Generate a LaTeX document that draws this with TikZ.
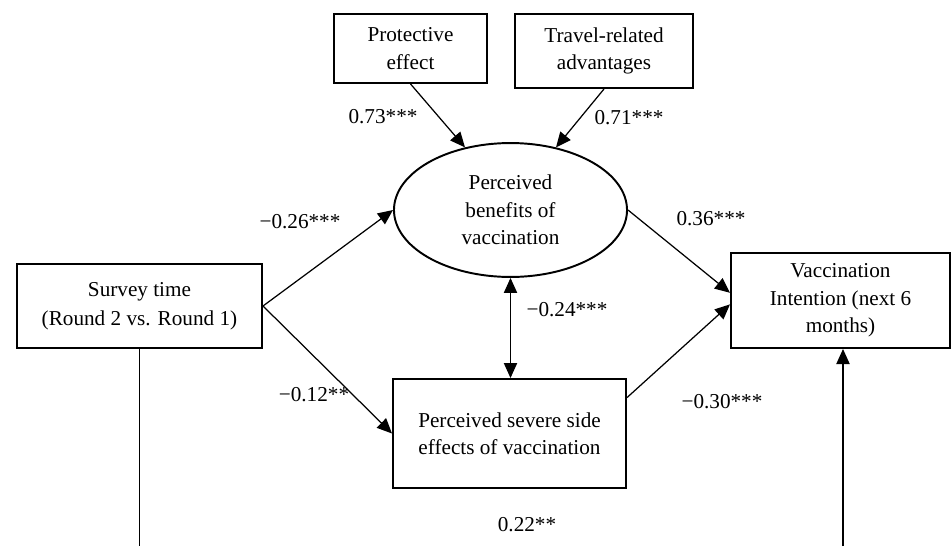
\documentclass[tikz,border=0pt]{standalone}
\usepackage{fontspec}
\setmainfont{Liberation Serif}
\usetikzlibrary{arrows.meta,shapes.geometric}

\begin{document}
\begin{tikzpicture}[x=0.566pt,y=-0.566pt,
    font=\fontsize{12}{15.5}\selectfont,
    box/.style={draw,line width=1.1pt,rectangle,align=center,inner sep=0pt},
    latent/.style={draw,line width=1.1pt,ellipse,align=center,inner sep=0pt,minimum width=131.9pt,minimum height=75.8pt},
    arr/.style={line width=0.7pt,-{Triangle[length=8.5pt,width=7.5pt]}},
    lab/.style={inner sep=0pt}]
    \useasboundingbox (0,0) rectangle (951,546);

    \node[box,minimum width=86.6pt,minimum height=39pt] (prot) at (410.5,48.5) {Protective\\effect};
    \node[box,minimum width=100.7pt,minimum height=41.9pt] (trav) at (604,51) {Travel-related\\advantages};
    \node[latent] (ben) at (510.5,210) {Perceived\\benefits of\\vaccination};
    \node[box,minimum width=138.7pt,minimum height=47.5pt] (surv) at (139.5,306) {Survey time\\[1pt](Round 2 vs. Round 1)};
    \node[box,minimum width=131.9pt,minimum height=61.7pt] (side) at (509.5,433.5) {Perceived severe side\\effects of vaccination};
    \node[box,minimum width=124pt,minimum height=53.8pt] (vint) at (840.5,300.5) {Vaccination\\Intention (next 6\\months)};
    \coordinate (sbot) at (139.5,546);
    \coordinate (vbot) at (843,546);

    \draw[arr] (prot.south) -- (ben.126);
    \draw[arr] (trav.south) -- (ben.54);
    \draw[arr] (surv.east) -- (ben.west);
    \draw[arr] (surv.east) -- (side.west);
    \draw[arr] (ben.east) -- (vint.176);
    \draw[arr] (side.17) -- (vint.182);
    \draw[arr,{Triangle[length=8.5pt,width=7.5pt]}-{Triangle[length=8.5pt,width=7.5pt]}] (ben.south) -- (ben.south |- side.north);
    \draw[line width=0.7pt] (surv.south) -- (sbot);
    \draw[arr] (vbot) -- (vbot |- vint.south);

    \node[lab] at (383,117) {0.73***};
    \node[lab] at (629,118) {0.71***};
    \node[lab] at (300,222) {−0.26***};
    \node[lab] at (711,219) {0.36***};
    \node[lab] at (567,310) {−0.24***};
    \node[lab] at (314,395) {−0.12**};
    \node[lab] at (722,402) {−0.30***};
    \node[lab] at (527,525) {0.22**};
\end{tikzpicture}
\end{document}
